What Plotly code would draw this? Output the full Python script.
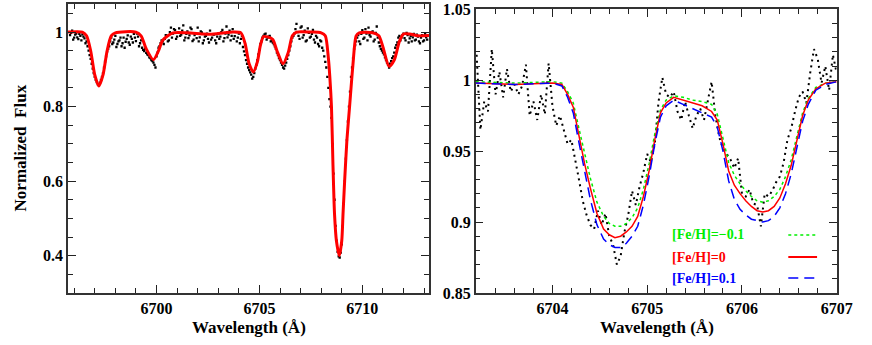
import plotly.graph_objects as go

# ---- left panel: observed spectrum (dots) and synthetic fit (red) ----
obs_wl_left = [
    6695.8, 6695.9, 6696.0, 6696.1, 6696.2, 6696.3, 6696.4, 6696.5, 6696.6, 6696.7,
    6696.8, 6696.9, 6697.0, 6697.1, 6697.2, 6697.3, 6697.4, 6697.5, 6697.6, 6697.7,
    6697.8, 6697.9, 6698.0, 6698.1, 6698.2, 6698.3, 6698.4, 6698.5, 6698.6, 6698.7,
    6698.8, 6698.9, 6699.0, 6699.1, 6699.2, 6699.3, 6699.4, 6699.5, 6699.6, 6699.7,
    6699.8, 6699.9, 6700.0, 6700.1, 6700.2, 6700.3, 6700.4, 6700.5, 6700.6, 6700.7,
    6700.8, 6700.9, 6701.0, 6701.1, 6701.2, 6701.3, 6701.4, 6701.5, 6701.6, 6701.7,
    6701.8, 6701.9, 6702.0, 6702.1, 6702.2, 6702.3, 6702.4, 6702.5, 6702.6, 6702.7,
    6702.8, 6702.9, 6703.0, 6703.1, 6703.2, 6703.3, 6703.4, 6703.5, 6703.6, 6703.7,
    6703.8, 6703.9, 6704.0, 6704.1, 6704.2, 6704.3, 6704.4, 6704.5, 6704.6, 6704.7,
    6704.8, 6704.9, 6705.0, 6705.1, 6705.2, 6705.3, 6705.4, 6705.5, 6705.6, 6705.7,
    6705.8, 6705.9, 6706.0, 6706.1, 6706.2, 6706.3, 6706.4, 6706.5, 6706.6, 6706.7,
    6706.8, 6706.9, 6707.0, 6707.1, 6707.2, 6707.3, 6707.4, 6707.5, 6707.6, 6707.7,
    6707.8, 6707.9, 6708.0, 6708.1, 6708.2, 6708.3, 6708.4, 6708.5, 6708.6, 6708.7,
    6708.8, 6708.9, 6709.0, 6709.1, 6709.2, 6709.3, 6709.4, 6709.5, 6709.6, 6709.7,
    6709.8, 6709.9, 6710.0, 6710.1, 6710.2, 6710.3, 6710.4, 6710.5, 6710.6, 6710.7,
    6710.8, 6710.9, 6711.0, 6711.1, 6711.2, 6711.3, 6711.4, 6711.5, 6711.6, 6711.7,
    6711.8, 6711.9, 6712.0, 6712.1, 6712.2, 6712.3, 6712.4, 6712.5, 6712.6, 6712.7,
    6712.8, 6712.9, 6713.0, 6713.1, 6713.2,
    6695.85, 6695.95, 6696.05, 6696.15, 6696.25, 6696.35, 6696.45, 6696.55, 6696.65, 6696.75,
    6696.85, 6696.95, 6697.05, 6697.15, 6697.25, 6697.35, 6697.45, 6697.55, 6697.65, 6697.75,
    6697.85, 6697.95, 6698.05, 6698.15, 6698.25, 6698.35, 6698.45, 6698.55, 6698.65, 6698.75,
    6698.85, 6698.95, 6699.05, 6699.15, 6699.25, 6699.35, 6699.45, 6699.55, 6699.65, 6699.75,
    6699.85, 6699.95, 6700.05, 6700.15, 6700.25, 6700.35, 6700.45, 6700.55, 6700.65, 6700.75,
    6700.85, 6700.95, 6701.05, 6701.15, 6701.25, 6701.35, 6701.45, 6701.55, 6701.65, 6701.75,
    6701.85, 6701.95, 6702.05, 6702.15, 6702.25, 6702.35, 6702.45, 6702.55, 6702.65, 6702.75,
    6702.85, 6702.95, 6703.05, 6703.15, 6703.25, 6703.35, 6703.45, 6703.55, 6703.65, 6703.75,
    6703.85, 6703.95, 6704.05, 6704.15, 6704.25, 6704.35, 6704.45, 6704.55, 6704.65, 6704.75,
    6704.85, 6704.95, 6705.05, 6705.15, 6705.25, 6705.35, 6705.45, 6705.55, 6705.65, 6705.75,
    6705.85, 6705.95, 6706.05, 6706.15, 6706.25, 6706.35, 6706.45, 6706.55, 6706.65, 6706.75,
    6706.85, 6706.95, 6707.05, 6707.15, 6707.25, 6707.35, 6707.45, 6707.55, 6707.65, 6707.75,
    6707.85, 6707.95, 6708.05, 6708.15, 6708.25, 6708.35, 6708.45, 6708.55, 6708.65, 6708.75,
    6708.85, 6708.95, 6709.05, 6709.15, 6709.25, 6709.35, 6709.45, 6709.55, 6709.65, 6709.75,
    6709.85, 6709.95, 6710.05, 6710.15, 6710.25, 6710.35, 6710.45, 6710.55, 6710.65, 6710.75,
    6710.85, 6710.95, 6711.05, 6711.15, 6711.25, 6711.35, 6711.45, 6711.55, 6711.65, 6711.75,
    6711.85, 6711.95, 6712.05, 6712.15, 6712.25, 6712.35, 6712.45, 6712.55, 6712.65, 6712.75,
    6712.85, 6712.95, 6713.05, 6713.15,
]
obs_flux_left = [
    0.992, 1.004, 0.985, 0.996, 0.981, 0.990, 0.994, 0.983, 0.975, 0.950,
    0.928, 0.902, 0.880, 0.866, 0.858, 0.872, 0.890, 0.921, 0.948, 0.962,
    0.985, 0.972, 0.990, 0.968, 0.978, 0.962, 0.985, 0.974, 0.991, 0.966,
    0.982, 0.995, 0.976, 0.988, 0.970, 0.958, 0.949, 0.944, 0.938, 0.930,
    0.922, 0.912, 0.935, 0.958, 0.970, 0.975, 0.982, 0.990, 0.978, 1.012,
    0.996, 1.005, 0.988, 1.010, 0.993, 1.018, 0.985, 1.002, 0.991, 1.008,
    0.980, 0.997, 1.012, 0.986, 0.999, 0.978, 0.990, 0.982, 1.004, 0.985,
    0.993, 0.970, 0.996, 0.988, 1.006, 0.984, 1.015, 0.993, 0.978, 1.008,
    0.989, 0.975, 0.996, 0.982, 0.960, 0.938, 0.915, 0.898, 0.886, 0.880,
    0.902, 0.925, 0.952, 0.975, 0.990, 0.996, 0.985, 0.990, 0.978, 0.968,
    0.955, 0.938, 0.925, 0.912, 0.902, 0.918, 0.938, 0.962, 0.985, 0.996,
    1.022, 0.990, 1.012, 0.985, 1.004, 0.978, 0.998, 0.988, 1.006, 0.972,
    0.985, 0.962, 0.975, 0.950, 0.920, 0.880, 0.820, 0.770, 0.620, 0.480,
    0.410, 0.395, 0.430, 0.540, 0.660, 0.760, 0.840, 0.905, 0.955, 0.975,
    0.992, 0.968, 1.005, 0.985, 0.996, 1.012, 0.988, 1.002, 0.980, 1.015,
    0.972, 0.955, 0.945, 0.932, 0.918, 0.905, 0.922, 0.935, 0.958, 0.972,
    0.990, 0.985, 0.996, 0.978, 0.992, 0.983, 0.975, 0.995, 0.980, 0.988,
    0.970, 0.992, 0.978, 0.986, 0.990,
    0.998, 0.980, 0.993, 0.986, 0.995, 0.978, 0.988, 0.970, 0.962, 0.938,
    0.915, 0.890, 0.872, 0.860, 0.864, 0.880, 0.905, 0.935, 0.955, 0.975,
    0.968, 0.980, 0.960, 0.975, 0.985, 0.970, 0.958, 0.982, 0.972, 0.988,
    0.972, 0.985, 0.996, 0.962, 0.978, 0.952, 0.955, 0.940, 0.932, 0.925,
    0.918, 0.905, 0.945, 0.962, 0.978, 0.968, 0.992, 0.975, 1.000, 0.985,
    1.008, 0.982, 0.998, 0.990, 1.004, 0.978, 0.995, 0.984, 1.012, 0.976,
    0.992, 0.984, 0.975, 1.002, 0.970, 0.988, 0.996, 0.972, 0.980, 0.994,
    0.978, 0.988, 0.982, 1.000, 0.975, 0.996, 0.986, 1.004, 0.990, 0.982,
    1.000, 0.985, 0.970, 0.990, 0.948, 0.925, 0.905, 0.892, 0.875, 0.890,
    0.912, 0.940, 0.968, 0.985, 0.994, 0.980, 0.988, 0.975, 0.972, 0.962,
    0.945, 0.930, 0.918, 0.905, 0.910, 0.928, 0.950, 0.975, 0.990, 1.008,
    1.000, 0.982, 1.015, 0.992, 0.975, 1.010, 0.985, 0.995, 0.980, 0.990,
    0.968, 0.978, 0.958, 0.935, 0.905, 0.850, 0.800, 0.700, 0.550, 0.440,
    0.398, 0.408, 0.480, 0.600, 0.710, 0.800, 0.880, 0.930, 0.965, 0.985,
    0.975, 0.995, 0.982, 1.008, 0.978, 0.992, 1.000, 0.975, 0.998, 0.985,
    0.962, 0.950, 0.940, 0.925, 0.912, 0.915, 0.930, 0.945, 0.965, 0.985,
    0.978, 0.992, 0.984, 0.998, 0.972, 0.990, 0.986, 0.978, 0.993, 0.975,
    0.985, 0.975, 0.995, 0.980,
]

fit_wl_left = [
    6695.70, 6696.40, 6696.60, 6696.80, 6697.00, 6697.20, 6697.40, 6697.60, 6697.80, 6698.00,
    6699.00, 6699.25, 6699.50, 6699.85, 6700.10, 6700.30, 6700.80, 6701.50, 6702.20, 6702.60,
    6703.30, 6703.70, 6704.10, 6704.30, 6704.50, 6704.70, 6704.90, 6705.05, 6705.20, 6705.40,
    6705.65, 6705.85, 6706.15, 6706.40, 6706.60, 6706.80, 6707.50, 6708.00, 6708.20, 6708.35,
    6708.42, 6708.50, 6708.57, 6708.65, 6708.74, 6708.88, 6709.00, 6709.06, 6709.14, 6709.25,
    6709.38, 6709.54, 6709.70, 6709.85, 6710.50, 6710.80, 6711.00, 6711.30, 6711.55, 6711.80,
    6712.00, 6712.30, 6712.70, 6713.24,
]
fit_flux_left = [
    1.000, 1.000, 0.990, 0.950, 0.885, 0.855, 0.885, 0.950, 0.990, 0.998,
    1.000, 0.990, 0.955, 0.926, 0.950, 0.978, 0.998, 0.998, 0.995, 0.994,
    0.998, 1.000, 0.998, 0.970, 0.915, 0.893, 0.920, 0.965, 0.988, 0.987,
    0.980, 0.950, 0.915, 0.945, 0.990, 1.000, 1.000, 0.998, 0.990, 0.930,
    0.880, 0.800, 0.650, 0.510, 0.440, 0.400, 0.440, 0.510, 0.600, 0.710,
    0.800, 0.910, 0.990, 0.998, 0.998, 0.990, 0.960, 0.908, 0.925, 0.975,
    0.995, 0.995, 0.990, 0.991,
]

# ---- right panel: zoom on 6703-6707 with three [Fe/H] models ----
obs_wl_right = [
    6703.20, 6703.24, 6703.28, 6703.32, 6703.36, 6703.40, 6703.44, 6703.48, 6703.52, 6703.56,
    6703.60, 6703.64, 6703.68, 6703.72, 6703.76, 6703.80, 6703.84, 6703.88, 6703.92, 6703.96,
    6704.00, 6704.04, 6704.08, 6704.12, 6704.16, 6704.20, 6704.24, 6704.28, 6704.32, 6704.36,
    6704.40, 6704.44, 6704.48, 6704.52, 6704.56, 6704.60, 6704.64, 6704.68, 6704.72, 6704.76,
    6704.80, 6704.84, 6704.88, 6704.92, 6704.96, 6705.00, 6705.04, 6705.08, 6705.12, 6705.16,
    6705.20, 6705.24, 6705.28, 6705.32, 6705.36, 6705.40, 6705.44, 6705.48, 6705.52, 6705.56,
    6705.60, 6705.64, 6705.68, 6705.72, 6705.76, 6705.80, 6705.84, 6705.88, 6705.92, 6705.96,
    6706.00, 6706.04, 6706.08, 6706.12, 6706.16, 6706.20, 6706.24, 6706.28, 6706.32, 6706.36,
    6706.40, 6706.44, 6706.48, 6706.52, 6706.56, 6706.60, 6706.64, 6706.68, 6706.72, 6706.76,
    6706.80, 6706.84, 6706.88, 6706.92, 6706.96, 6707.00,
]
obs_flux_right = [
    1.018, 0.965, 0.985, 0.978, 1.022, 0.990, 1.006, 0.988, 1.008, 0.992,
    0.997, 0.990, 0.996, 1.011, 0.975, 0.985, 0.972, 0.990, 0.976, 1.012,
    0.982, 0.968, 0.975, 0.965, 0.955, 0.958, 0.945, 0.930, 0.915, 0.905,
    0.898, 0.895, 0.908, 0.898, 0.906, 0.890, 0.884, 0.870, 0.876, 0.893,
    0.905, 0.922, 0.912, 0.925, 0.935, 0.948, 0.942, 0.955, 0.985, 1.002,
    0.990, 0.988, 0.992, 0.978, 0.972, 0.985, 0.975, 0.966, 0.975, 0.980,
    0.972, 0.985, 0.999, 0.975, 0.960, 0.952, 0.948, 0.944, 0.938, 0.945,
    0.920, 0.918, 0.923, 0.913, 0.912, 0.897, 0.920, 0.918, 0.922, 0.928,
    0.932, 0.942, 0.958, 0.966, 0.978, 0.988, 0.992, 0.984, 1.005, 1.022,
    1.015, 0.998, 1.010, 0.993, 1.018, 1.005,
]

model_wl = [
    6703.19, 6703.60, 6704.00, 6704.10, 6704.16, 6704.22, 6704.28, 6704.34, 6704.40, 6704.47,
    6704.54, 6704.60, 6704.66, 6704.72, 6704.78, 6704.84, 6704.90, 6704.96, 6705.02, 6705.08,
    6705.14, 6705.20, 6705.28, 6705.38, 6705.48, 6705.58, 6705.68, 6705.74, 6705.80, 6705.86,
    6705.92, 6705.98, 6706.04, 6706.10, 6706.16, 6706.22, 6706.28, 6706.34, 6706.40, 6706.46,
    6706.52, 6706.58, 6706.64, 6706.70, 6706.78, 6706.88, 6707.00,
]
model_m01 = [
    0.999, 0.998, 0.999, 0.998, 0.992, 0.984, 0.966, 0.948, 0.931, 0.914,
    0.904, 0.899, 0.897, 0.897, 0.899, 0.903, 0.910, 0.923, 0.941, 0.962,
    0.979, 0.986, 0.989, 0.988, 0.986, 0.985, 0.983, 0.976, 0.960, 0.942,
    0.933, 0.927, 0.922, 0.918, 0.915, 0.914, 0.915, 0.918, 0.923, 0.932,
    0.944, 0.961, 0.977, 0.987, 0.995, 0.998, 0.999,
]
model_00 = [
    0.998, 0.997, 0.998, 0.997, 0.990, 0.981, 0.961, 0.941, 0.924, 0.906,
    0.895, 0.891, 0.889, 0.890, 0.893, 0.897, 0.904, 0.918, 0.936, 0.958,
    0.977, 0.984, 0.988, 0.986, 0.984, 0.982, 0.978, 0.972, 0.955, 0.936,
    0.926, 0.920, 0.915, 0.911, 0.908, 0.907, 0.908, 0.911, 0.917, 0.927,
    0.940, 0.958, 0.975, 0.986, 0.994, 0.998, 0.999,
]
model_p01 = [
    0.998, 0.997, 0.998, 0.996, 0.988, 0.977, 0.956, 0.935, 0.916, 0.898,
    0.888, 0.884, 0.882, 0.882, 0.885, 0.890, 0.897, 0.912, 0.932, 0.955,
    0.974, 0.982, 0.986, 0.983, 0.980, 0.977, 0.974, 0.967, 0.950, 0.929,
    0.916, 0.909, 0.905, 0.902, 0.901, 0.900, 0.901, 0.904, 0.910, 0.920,
    0.934, 0.953, 0.971, 0.983, 0.993, 0.997, 0.999,
]

left_ytick_vals = [0.4, 0.6, 0.8, 1.0]
left_ytick_text = ["0.4", "0.6", "0.8", "1"]
right_ytick_vals = [0.85, 0.9, 0.95, 1.0, 1.05]
right_ytick_text = ["0.85", "0.9", "0.95", "1", "1.05"]

legend_labels = ["[Fe/H]=\u22120.1", "[Fe/H]=0", "[Fe/H]=0.1"]
legend_colors = ["#00ee00", "#ff0000", "#0000ff"]
legend_dash = ["dot", "solid", "10px,6px"]

fig = go.Figure()

fig.add_trace(go.Scatter(x=obs_wl_left, y=obs_flux_left, mode="markers",
                         marker=dict(symbol="square", size=2.3, color="black"),
                         xaxis="x", yaxis="y"))
fig.add_trace(go.Scatter(x=fit_wl_left, y=fit_flux_left, mode="lines",
                         line=dict(color="#ff0000", width=3, shape="spline", smoothing=0.7),
                         xaxis="x", yaxis="y"))

fig.add_trace(go.Scatter(x=obs_wl_right, y=obs_flux_right, mode="lines",
                         line=dict(color="black", width=2, dash="2px,4px"),
                         xaxis="x2", yaxis="y2"))
for vals, col, dash in zip([model_m01, model_00, model_p01], legend_colors, legend_dash):
    fig.add_trace(go.Scatter(x=model_wl, y=vals, mode="lines",
                             line=dict(color=col, width=1.5, dash=dash),
                             xaxis="x2", yaxis="y2"))

tickfont = dict(family="Liberation Serif", size=16, color="black", weight="bold")
axis_style = dict(showline=True, linecolor="#333", linewidth=1.5, mirror="allticks",
                  ticks="inside", ticklen=8, tickcolor="#222", tickwidth=1.2,
                  showgrid=False, zeroline=False, automargin=False, tickfont=tickfont)

fig.update_layout(
    width=872, height=345,
    margin=dict(l=0, r=0, t=0, b=0),
    paper_bgcolor="white", plot_bgcolor="white",
    showlegend=False,
    xaxis=dict(domain=[0.078, 0.492], range=[6695.7, 6713.24], dtick=5, tick0=6700,
               minor=dict(dtick=1, ticks="inside", ticklen=5, tickcolor="#222"),
               anchor="y", **axis_style),
    yaxis=dict(domain=[0.151, 0.988], range=[0.3, 1.075],
               tickvals=left_ytick_vals, ticktext=left_ytick_text,
               minor=dict(dtick=0.05, tick0=0, ticks="inside", ticklen=5, tickcolor="#222"),
               anchor="x", **axis_style),
    xaxis2=dict(domain=[0.5455, 0.9595], range=[6703.19, 6707.0], dtick=1, tick0=6704,
                minor=dict(dtick=0.2, tick0=6704, ticks="inside", ticklen=5, tickcolor="#222"),
                anchor="y2", **axis_style),
    yaxis2=dict(domain=[0.151, 0.974], range=[0.85, 1.0503],
                tickvals=right_ytick_vals, ticktext=right_ytick_text,
                ticklabeloverflow="allow",
                minor=dict(dtick=0.01, tick0=0.85, ticks="inside", ticklen=5, tickcolor="#222"),
                anchor="x2", **axis_style),
)

title_font = dict(family="Liberation Serif", size=17, color="black", weight="bold")
fig.add_annotation(text="Wavelength (\u00c5)", xref="paper", yref="paper", x=0.286, y=0.052,
                   xanchor="center", yanchor="middle", showarrow=False, font=title_font)
fig.add_annotation(text="Wavelength (\u00c5)", xref="paper", yref="paper", x=0.754, y=0.052,
                   xanchor="center", yanchor="middle", showarrow=False, font=title_font)
fig.add_annotation(text="Normalized  Flux", xref="paper", yref="paper", x=0.023, y=0.57,
                   xanchor="center", yanchor="middle", showarrow=False, textangle=-90,
                   font=title_font)

# legend drawn inside right panel: label on the left, line sample on the right
legend_y = [0.319, 0.255, 0.194]
for lab, col, dash, yy in zip(legend_labels, legend_colors, legend_dash, legend_y):
    fig.add_annotation(text=lab, xref="paper", yref="paper", x=0.768, y=yy,
                       xanchor="left", yanchor="middle", showarrow=False,
                       font=dict(family="Liberation Serif", size=14, color=col, weight="bold"))
    fig.add_shape(type="line", xref="paper", yref="paper", x0=0.904, x1=0.937, y0=yy, y1=yy,
                  line=dict(color=col, width=2 if dash == "solid" else 1.5, dash=dash))

# drop the default 8px page margin so the figure fills the window exactly
fig.write_html("out.html", config={"displayModeBar": False},
               post_script="document.body.style.margin = '0px';")
